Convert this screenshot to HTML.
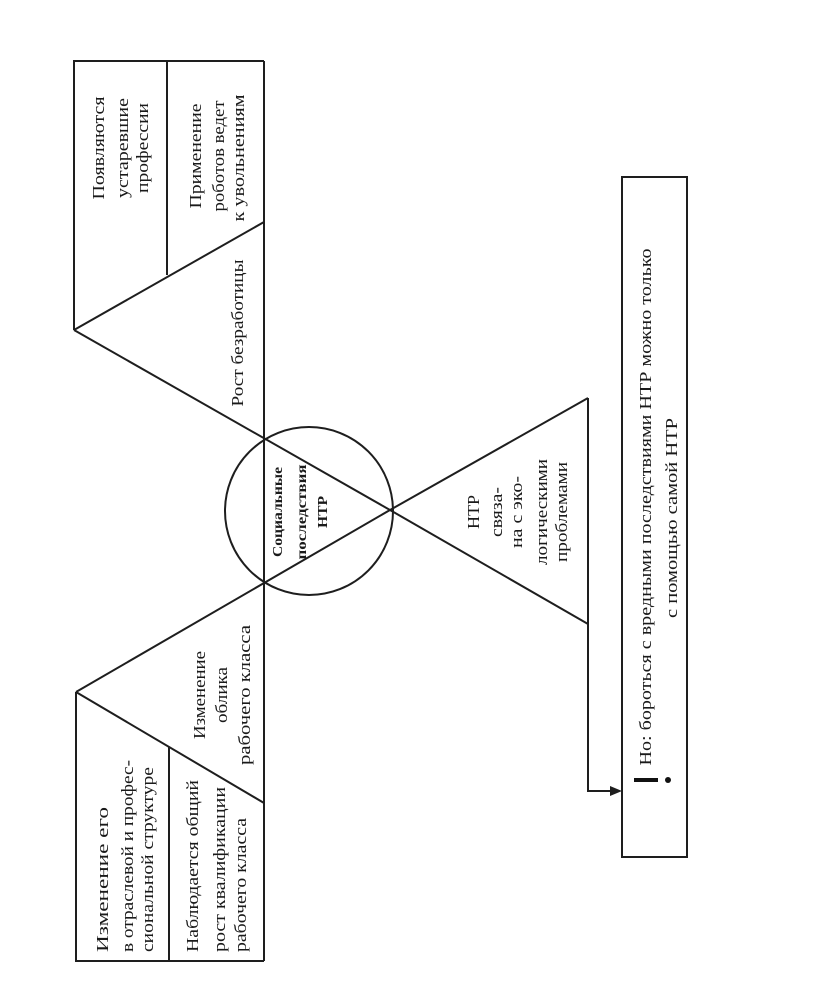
<!DOCTYPE html>
<html><head><meta charset="utf-8"><style>
html,body{margin:0;padding:0;background:#fff;}
svg{display:block;}
text{font-family:"Liberation Serif",serif;fill:#1a1a1a;}
</style></head><body>
<svg width="816" height="983" viewBox="0 0 816 983" xmlns="http://www.w3.org/2000/svg">
<g stroke="#1e1e1e" stroke-width="2" fill="none">
  <polyline points="74,330 74,61 264,61"/>
  <line x1="167" y1="61" x2="167" y2="275"/>
  <line x1="264" y1="61" x2="264" y2="961"/>
  <line x1="74" y1="330" x2="264" y2="222"/>
  <line x1="74" y1="330" x2="390" y2="510"/>
  <line x1="390" y1="510" x2="588" y2="624"/>
  <line x1="76" y1="692" x2="390" y2="510"/>
  <line x1="390" y1="510" x2="588" y2="398"/>
  <line x1="76" y1="692" x2="264" y2="803"/>
  <polyline points="76,692 76,961 264,961"/>
  <line x1="169" y1="747" x2="169" y2="961"/>
  <circle cx="309" cy="511" r="84"/>
  <polyline points="588,398 588,791 614,791"/>
  <rect x="622" y="177" width="65" height="680"/>
</g>
<polygon points="622,791 610,786 610,796" fill="#1e1e1e"/>
<line x1="634" y1="780" x2="658" y2="780" stroke="#111" stroke-width="4"/>
<circle cx="668" cy="780" r="3" fill="#111"/>

<g font-size="17" text-anchor="middle" lengthAdjust="spacingAndGlyphs">
  <text transform="translate(104,148) rotate(-90)" textLength="103" lengthAdjust="spacingAndGlyphs">Появляются</text>
  <text transform="translate(128,148) rotate(-90)" textLength="100" lengthAdjust="spacingAndGlyphs">устаревшие</text>
  <text transform="translate(148,148) rotate(-90)" textLength="90" lengthAdjust="spacingAndGlyphs">профессии</text>
  <text transform="translate(201,156) rotate(-90)" textLength="105" lengthAdjust="spacingAndGlyphs">Применение</text>
  <text transform="translate(224,156) rotate(-90)" textLength="111" lengthAdjust="spacingAndGlyphs">роботов ведет</text>
  <text transform="translate(244,158) rotate(-90)" textLength="127" lengthAdjust="spacingAndGlyphs">к увольнениям</text>
  <text transform="translate(243,333) rotate(-90)" textLength="147" lengthAdjust="spacingAndGlyphs">Рост безработицы</text>
  <text transform="translate(205,695) rotate(-90)" textLength="88" lengthAdjust="spacingAndGlyphs">Изменение</text>
  <text transform="translate(227,695) rotate(-90)" textLength="56" lengthAdjust="spacingAndGlyphs">облика</text>
  <text transform="translate(250,695) rotate(-90)" textLength="140" lengthAdjust="spacingAndGlyphs">рабочего класса</text>
  <g font-weight="bold" font-size="14">
    <text transform="translate(282,512) rotate(-90)" textLength="90" lengthAdjust="spacingAndGlyphs">Социальные</text>
    <text transform="translate(306,512) rotate(-90)" textLength="95" lengthAdjust="spacingAndGlyphs">последствия</text>
    <text transform="translate(327,512) rotate(-90)" textLength="32" lengthAdjust="spacingAndGlyphs">НТР</text>
  </g>
  <text transform="translate(479,512) rotate(-90)" textLength="34" lengthAdjust="spacingAndGlyphs">НТР</text>
  <text transform="translate(502,512) rotate(-90)" textLength="50" lengthAdjust="spacingAndGlyphs">связа-</text>
  <text transform="translate(522,512) rotate(-90)" textLength="72" lengthAdjust="spacingAndGlyphs">на с эко-</text>
  <text transform="translate(547,512) rotate(-90)" textLength="106" lengthAdjust="spacingAndGlyphs">логическими</text>
  <text transform="translate(567,512) rotate(-90)" textLength="100" lengthAdjust="spacingAndGlyphs">проблемами</text>
  <text transform="translate(651,507) rotate(-90)" textLength="517" lengthAdjust="spacingAndGlyphs">Но: бороться с вредными последствиями НТР можно только</text>
  <text transform="translate(677,518) rotate(-90)" textLength="200" lengthAdjust="spacingAndGlyphs">с помощью самой НТР</text>
</g>
<g font-size="17" text-anchor="start">
  <text transform="translate(108,952) rotate(-90)" textLength="145" lengthAdjust="spacingAndGlyphs">Изменение его</text>
  <text transform="translate(133,952) rotate(-90)" textLength="192" lengthAdjust="spacingAndGlyphs">в отраслевой и профес-</text>
  <text transform="translate(153,952) rotate(-90)" textLength="185" lengthAdjust="spacingAndGlyphs">сиональной структуре</text>
  <text transform="translate(198,952) rotate(-90)" textLength="172" lengthAdjust="spacingAndGlyphs">Наблюдается общий</text>
  <text transform="translate(225,952) rotate(-90)" textLength="165" lengthAdjust="spacingAndGlyphs">рост квалификации</text>
  <text transform="translate(246,952) rotate(-90)" textLength="134" lengthAdjust="spacingAndGlyphs">рабочего класса</text>
</g>
</svg>
</body></html>
